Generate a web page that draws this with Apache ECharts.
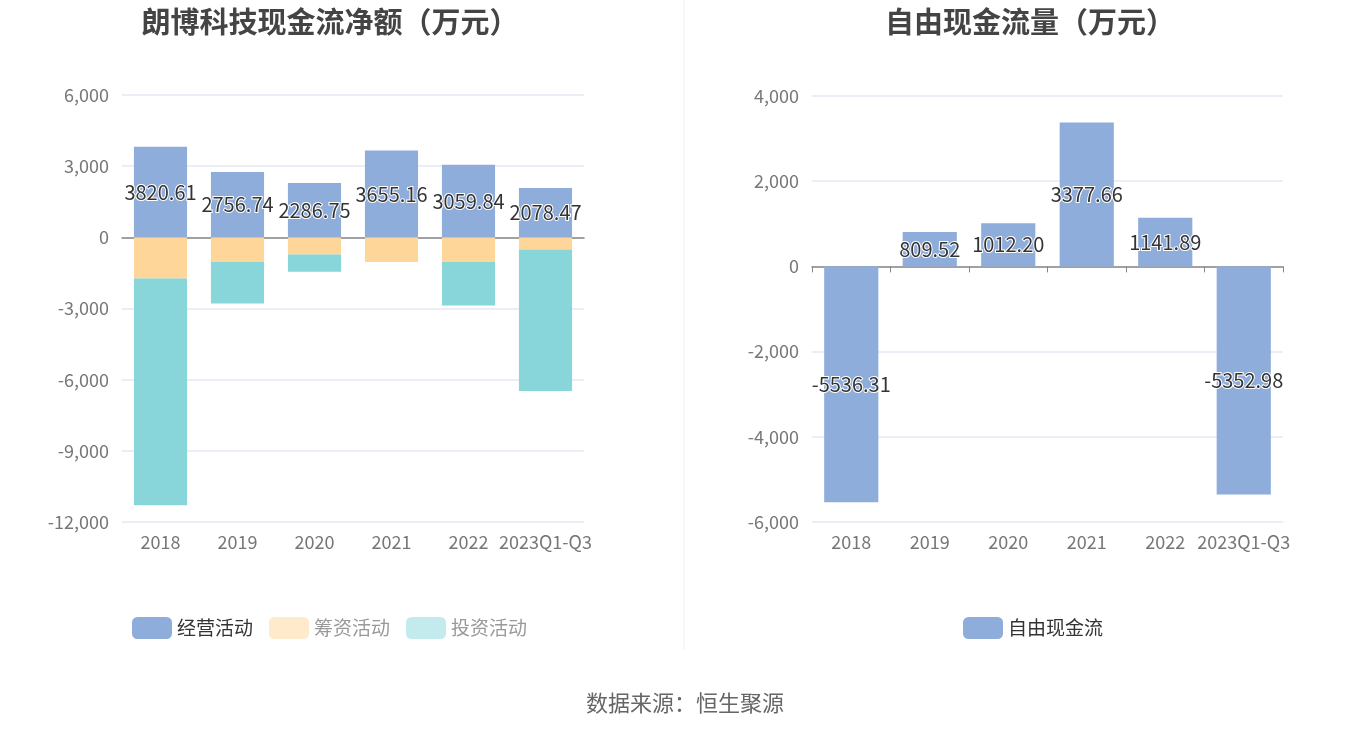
<!DOCTYPE html>
<html><head><meta charset="utf-8">
<script src="https://cdn.jsdelivr.net/npm/echarts@6/dist/echarts.min.js"></script>
<style>html,body{margin:0;padding:0;background:#fff}#c{width:1360px;height:734px}</style>
</head><body><div id="c"></div>
<script>
var categories = ['2018','2019','2020','2021','2022','2023Q1-Q3'];
var operating = [3820.61, 2756.74, 2286.75, 3655.16, 3059.84, 2078.47];
var financing = [-1732, -1030, -720, -1045, -1030, -510];
var investing = [-9560, -1760, -730, 0, -1845, -5965];
var freeCash = [-5536.31, 809.52, 1012.20, 3377.66, 1141.89, -5352.98];
var leftTicks = {min: -12000, max: 6000, interval: 3000};
var rightTicks = {min: -6000, max: 4000, interval: 2000};

var chart = echarts.init(document.getElementById('c'));
var fontFam = '"Noto Sans CJK SC","Noto Sans",sans-serif';
function fmt(v){ return Number(v).toLocaleString('en-US'); }
var axisLabelY = {color:'#777', fontSize:18, fontFamily:fontFam, formatter: fmt, margin: 13};
var axisLabelX = {color:'#777', fontSize:18, fontFamily:fontFam, interval:0, margin: 11};
var splitLine = {lineStyle:{color:'#E5E8F3', width:1.5}};
var barLabel = {show:true, position:'inside', color:'#333', fontSize:20, fontFamily:fontFam,
  textBorderColor:'#fff', textBorderWidth:2, formatter: function(p){ return p.value.toFixed(2); }};

chart.setOption({
  animation:false,
  title:[
    {text:'朗博科技现金流净额（万元）', left:325, top:2, textAlign:'center',
     textStyle:{fontSize:29, fontWeight:'bold', color:'#444', fontFamily:fontFam}},
    {text:'自由现金流量（万元）', left:1025, top:2, textAlign:'center',
     textStyle:{fontSize:29, fontWeight:'bold', color:'#444', fontFamily:fontFam}},
    {text:'数据来源：恒生聚源', left:680, top:687, textAlign:'center',
     textStyle:{fontSize:22, fontWeight:'normal', color:'#666', fontFamily:fontFam}}
  ],
  legend:[
    {left:127, top:612, itemWidth:40, itemHeight:22, itemGap:16, textStyle:{fontSize:19, fontFamily:fontFam},
     data:[
       {name:'经营活动', textStyle:{color:'#333'}},
       {name:'筹资活动', itemStyle:{opacity:0.5}, textStyle:{color:'#999'}},
       {name:'投资活动', itemStyle:{opacity:0.5}, textStyle:{color:'#999'}}
     ], selectedMode:false},
    {left:958, top:612, itemWidth:40, itemHeight:22, textStyle:{fontSize:19, color:'#333', fontFamily:fontFam},
     data:['自由现金流'], selectedMode:false}
  ],
  grid:[
    {left:122, width:462, top:95, height:427},
    {left:812, width:471, top:96, height:426}
  ],
  xAxis:[
    {gridIndex:0, type:'category', data:categories, axisLabel:axisLabelX,
     axisLine:{onZero:true, lineStyle:{color:'#888', width:1.5}}, axisTick:{show:false}},
    {gridIndex:1, type:'category', data:categories, axisLabel:axisLabelX,
     axisLine:{onZero:true, lineStyle:{color:'#888', width:1.5}}, axisTick:{show:true, length:6, lineStyle:{color:'#888'}}}
  ],
  yAxis:[
    {gridIndex:0, type:'value', min:leftTicks.min, max:leftTicks.max, interval:leftTicks.interval,
     axisLabel:axisLabelY, splitLine:splitLine, axisLine:{show:false}, axisTick:{show:false}},
    {gridIndex:1, type:'value', min:rightTicks.min, max:rightTicks.max, interval:rightTicks.interval,
     axisLabel:axisLabelY, splitLine:splitLine, axisLine:{show:false}, axisTick:{show:false}}
  ],
  series:[
    {name:'经营活动', type:'bar', stack:'a', xAxisIndex:0, yAxisIndex:0, data:operating, barWidth:'69%',
     itemStyle:{color:'#8EADDB'}, label:barLabel, z:3},
    {name:'筹资活动', type:'bar', stack:'a', xAxisIndex:0, yAxisIndex:0, data:financing,
     itemStyle:{color:'#FFD699'}},
    {name:'投资活动', type:'bar', stack:'a', xAxisIndex:0, yAxisIndex:0, data:investing,
     itemStyle:{color:'#88D6D9'}},
    {name:'自由现金流', type:'bar', xAxisIndex:1, yAxisIndex:1, data:freeCash, barWidth:'69%',
     itemStyle:{color:'#8EADDB'}, label:barLabel}
  ],
  graphic:[
    {type:'line', shape:{x1:684, y1:0, x2:684, y2:650}, style:{stroke:'#EEEEEE', lineWidth:1}}
  ]
});
</script></body></html>
